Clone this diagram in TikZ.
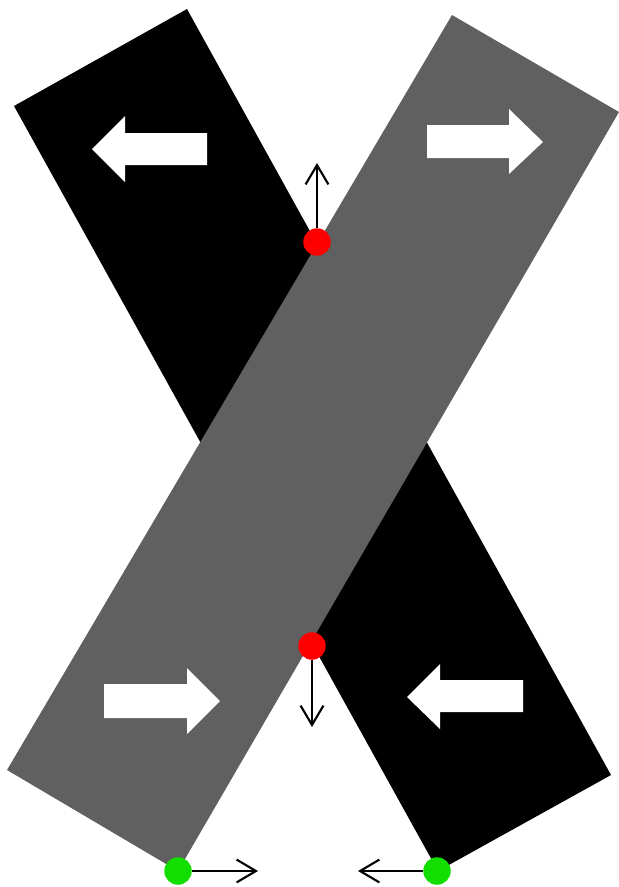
\documentclass[tikz,border=0pt]{standalone}
\usetikzlibrary{arrows.meta}
\definecolor{bargray}{RGB}{96,96,96}
\definecolor{hitred}{RGB}{255,0,0}
\definecolor{footgreen}{RGB}{18,222,0}

\begin{document}
\begin{tikzpicture}[x=0.02cm, y=-0.02cm,
  dot/.style={circle, inner sep=0pt, minimum size=0.55cm},
  motion/.style={line width=1.2pt, -{Straight Barb[length=11pt,width=13pt]}}]
  \useasboundingbox (0,0) rectangle (619,887);
  % the two bars
  \fill[black] (14,106) -- (187,9) -- (611,775) -- (438,871) -- cycle;
  \fill[bargray] (452,15) -- (619,112) -- (178,871) -- (7,770) -- cycle;
  % white direction arrows
  \fill[white] (92,149) -- (125,116) -- (125,133) -- (207,133) -- (207,165) -- (125,165) -- (125,182) -- cycle;
  \fill[white] (543,142) -- (509,109) -- (509,125) -- (427,125) -- (427,158) -- (509,158) -- (509,174) -- cycle;
  \fill[white] (220,701) -- (187,668) -- (187,684) -- (104,684) -- (104,718) -- (187,718) -- (187,734) -- cycle;
  \fill[white] (407,697) -- (440,664) -- (440,680) -- (523,680) -- (523,712) -- (440,712) -- (440,729) -- cycle;
  % arrow ends
  \coordinate (upEnd) at (317,163);
  \coordinate (downEnd) at (312,727);
  \coordinate (rightEnd) at (258,871);
  \coordinate (leftEnd) at (358,871);
  % contact points
  \node[dot, fill=hitred] (hitTop) at (317,242) {};
  \node[dot, fill=hitred] (hitBottom) at (312,646) {};
  \node[dot, fill=footgreen] (footLeft) at (178,871) {};
  \node[dot, fill=footgreen] (footRight) at (437,871) {};
  \draw[motion] (hitTop) -- (upEnd);
  \draw[motion] (hitBottom) -- (downEnd);
  \draw[motion] (footLeft) -- (rightEnd);
  \draw[motion] (footRight) -- (leftEnd);
\end{tikzpicture}
\end{document}
